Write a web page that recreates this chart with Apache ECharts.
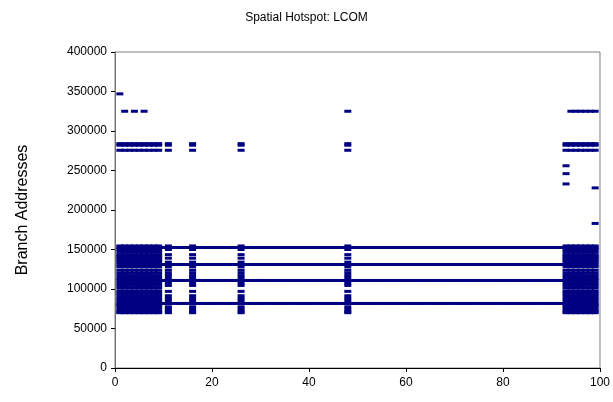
<!DOCTYPE html>
<html>
<head>
<meta charset="utf-8">
<title>Spatial Hotspot: LCOM</title>
<script src="https://cdn.jsdelivr.net/npm/echarts@6/dist/echarts.min.js"></script>
<style>
  html, body { margin: 0; padding: 0; background: #fff; }
  #chart { width: 613px; height: 402px; }
</style>
</head>
<body>
<div id="chart"></div>
<script>
// time steps seen on the x axis
const firstStep = 1
const lastStep = 99

// addresses hit at every step -> the long horizontal lines
const everyStepAddrs = [152500, 131000, 110800, 81700]

// isolated busy steps in the middle of the run
const sparseSteps = [11, 16, 26, 48]
const sparseAddrs = [
  154500, 150000, 143500, 139000, 134000, 128500, 124000, 120500, 117000,
  113500, 107500, 104500, 97000, 91500, 88000, 85000, 77500, 74500, 71500, 70000
]

// the two dense bursts at start and end
const burstSteps = [1, 2, 3, 4, 5, 6, 7, 8, 9, 93, 94, 95, 96, 97, 98, 99]
const burstExtraAddrs = [147000, 141000, 136500, 101000, 94500, 80000]

// upper address range
const upperSteps = [1, 2, 3, 4, 5, 6, 7, 8, 9, 11, 16, 26, 48, 93, 94, 95, 96, 97, 98, 99]
const upperAddrs = [284000, 282000, 275600]
const highSteps = [2, 4, 6, 48, 94, 95, 96, 97, 98, 99]
const highAddr = 325000

// single hits
const singleHits = [
  [1, 347000],
  [93, 256000],
  [93, 246000],
  [93, 233000],
  [99, 228000],
  [99, 183000]
]

const yTicks = [0, 50000, 100000, 150000, 200000, 250000, 300000, 350000, 400000]
const xTicks = [0, 20, 40, 60, 80, 100]

function buildPoints() {
  const pts = []
  for (let s = firstStep; s <= lastStep; s++) {
    everyStepAddrs.forEach(a => pts.push([s, a]))
  }
  sparseSteps.forEach(s => sparseAddrs.forEach(a => pts.push([s, a])))
  burstSteps.forEach(s => {
    sparseAddrs.forEach(a => pts.push([s, a]))
    burstExtraAddrs.forEach(a => pts.push([s, a]))
  })
  upperSteps.forEach(s => upperAddrs.forEach(a => pts.push([s, a])))
  highSteps.forEach(s => pts.push([s, highAddr]))
  singleHits.forEach(p => pts.push(p))
  return pts
}

const chart = echarts.init(document.getElementById('chart'), null, { renderer: 'canvas' })

chart.setOption({
  animation: false,
  backgroundColor: '#ffffff',
  textStyle: {
    fontFamily: '"Liberation Sans", Arial, sans-serif'
  },
  title: {
    text: 'Spatial Hotspot: LCOM',
    left: 'center',
    top: 7,
    textStyle: {
      fontSize: 12,
      fontWeight: 'normal',
      color: '#000'
    }
  },
  grid: {
    left: 115,
    right: 11,
    top: 52,
    bottom: 34,
    show: true,
    borderColor: '#808080',
    borderWidth: 1
  },
  xAxis: {
    type: 'value',
    min: xTicks[0],
    max: xTicks[xTicks.length - 1],
    interval: 20,
    axisLine: {
      show: true,
      lineStyle: { color: '#000', width: 1 }
    },
    axisTick: {
      show: true,
      length: 4,
      lineStyle: { color: '#000' }
    },
    axisLabel: {
      color: '#000',
      fontSize: 12,
      margin: 9
    },
    splitLine: { show: false }
  },
  yAxis: {
    type: 'value',
    min: yTicks[0],
    max: yTicks[yTicks.length - 1],
    interval: 50000,
    name: 'Branch Addresses',
    nameLocation: 'middle',
    nameGap: 84,
    nameTextStyle: {
      fontSize: 16,
      color: '#000'
    },
    axisLine: {
      show: true,
      lineStyle: { color: '#707070', width: 1 }
    },
    axisTick: {
      show: true,
      length: 4,
      lineStyle: { color: '#000' }
    },
    axisLabel: {
      color: '#000',
      fontSize: 12,
      margin: 8,
      formatter: v => String(v)
    },
    splitLine: { show: false }
  },
  series: [
    {
      type: 'scatter',
      symbol: 'rect',
      symbolSize: [7, 3],
      clip: false,
      itemStyle: {
        color: '#000080',
        opacity: 1
      },
      data: buildPoints()
    }
  ]
})
</script>
</body>
</html>
